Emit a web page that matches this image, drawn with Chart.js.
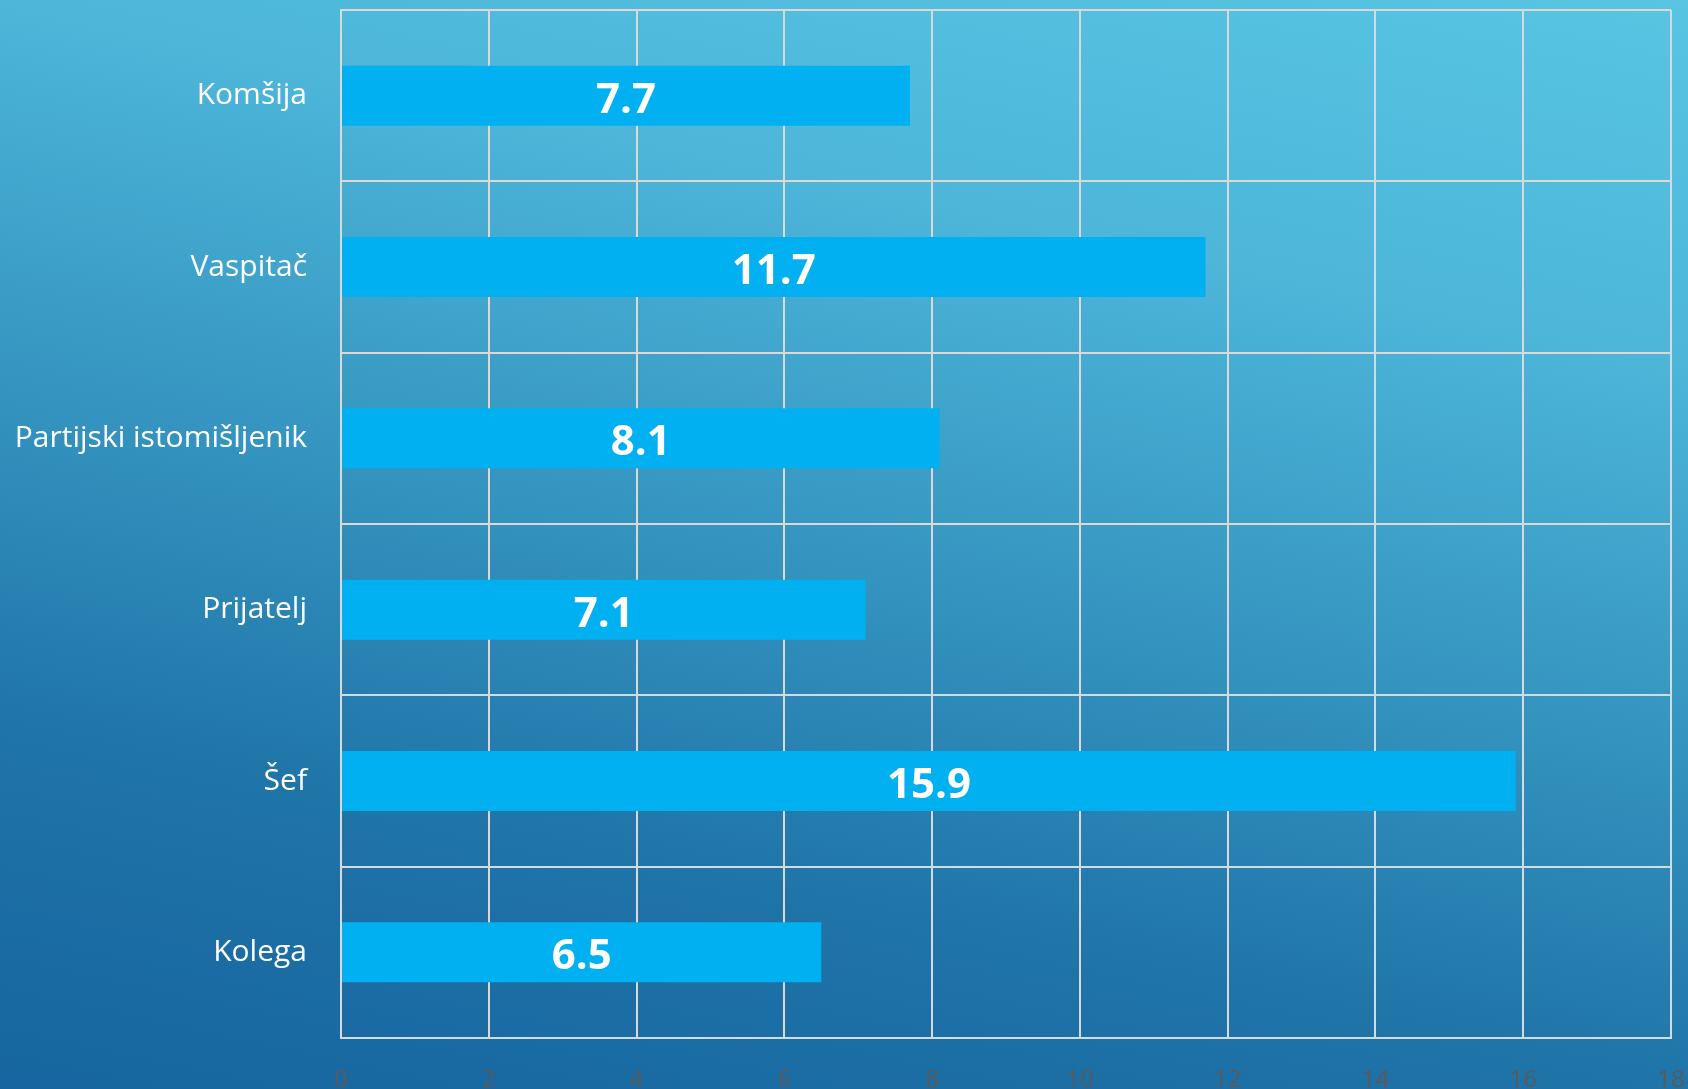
<!DOCTYPE html>
<html>

<head>
    <meta charset="utf-8">
    <title>Bar chart</title>
    <style>
        body {
            margin: 0;
            background: linear-gradient(192deg, #58c5e3 0%, #4db6d9 25%, #3696c1 50%, #1f74a8 75%, #1665a0 100%);
            width: 1688px;
            height: 1089px;
            overflow: hidden;
        }

        #chart {
            display: block;
        }
    </style>
</head>

<body>
    <canvas id="chart" width="1688" height="1089"></canvas>
    <script src="https://cdn.jsdelivr.net/npm/chart.js"></script>
    <script>
        // podaci iz grafika, odozgo nadole
        const categories = ['Komšija', 'Vaspitač', 'Partijski istomišljenik', 'Prijatelj', 'Šef', 'Kolega'];
        const values = [7.7, 11.7, 8.1, 7.1, 15.9, 6.5];
        const xMin = 0;
        const xMax = 18;
        const xStep = 2;

        const gridColor = '#d9d9d9';

        // ispisuje vrednost na sredini svakog stubića
        const barValues = {
            id: 'barValues',
            afterDatasetsDraw(chart) {
                const ctx = chart.ctx;
                const meta = chart.getDatasetMeta(0);
                ctx.save();
                ctx.fillStyle = '#ffffff';
                ctx.font = 'bold 42px "Open Sans"';
                ctx.textAlign = 'center';
                ctx.textBaseline = 'middle';
                meta.data.forEach((bar, i) => {
                    const cx = (bar.x + bar.base) / 2;
                    ctx.fillText(String(chart.data.datasets[0].data[i]), cx, bar.y + 5);
                });
                ctx.restore();
            }
        };

        new Chart(document.getElementById('chart'), {
            type: 'bar',
            data: {
                labels: categories,
                datasets: [{
                    data: values,
                    backgroundColor: '#00b0f0',
                    borderWidth: 0,
                    barPercentage: 0.35,
                    categoryPercentage: 1
                }]
            },
            options: {
                indexAxis: 'y',
                responsive: false,
                animation: false,
                layout: {
                    padding: { top: 10, right: 17, left: 0, bottom: 0 }
                },
                plugins: {
                    legend: { display: false },
                    tooltip: { enabled: false }
                },
                scales: {
                    x: {
                        min: xMin,
                        max: xMax,
                        ticks: {
                            stepSize: xStep,
                            color: '#5a5a5a',
                            font: { family: 'Open Sans', size: 24 },
                            padding: 28
                        },
                        grid: {
                            color: gridColor,
                            lineWidth: 2,
                            drawTicks: false
                        },
                        border: { color: gridColor, width: 2 },
                        afterFit(scale) {
                            scale.height = 51;
                            scale.paddingLeft = 0;
                            scale.paddingRight = 0;
                        }
                    },
                    y: {
                        ticks: {
                            color: '#ffffff',
                            font: { family: 'Open Sans', size: 30 },
                            padding: 34
                        },
                        grid: {
                            color: gridColor,
                            lineWidth: 2,
                            drawTicks: false,
                            offset: true
                        },
                        border: { color: gridColor, width: 2 },
                        afterFit(scale) {
                            scale.width = 341;
                            scale.paddingTop = 0;
                            scale.paddingBottom = 0;
                        }
                    }
                }
            },
            plugins: [barValues]
        });
    </script>
</body>

</html>
